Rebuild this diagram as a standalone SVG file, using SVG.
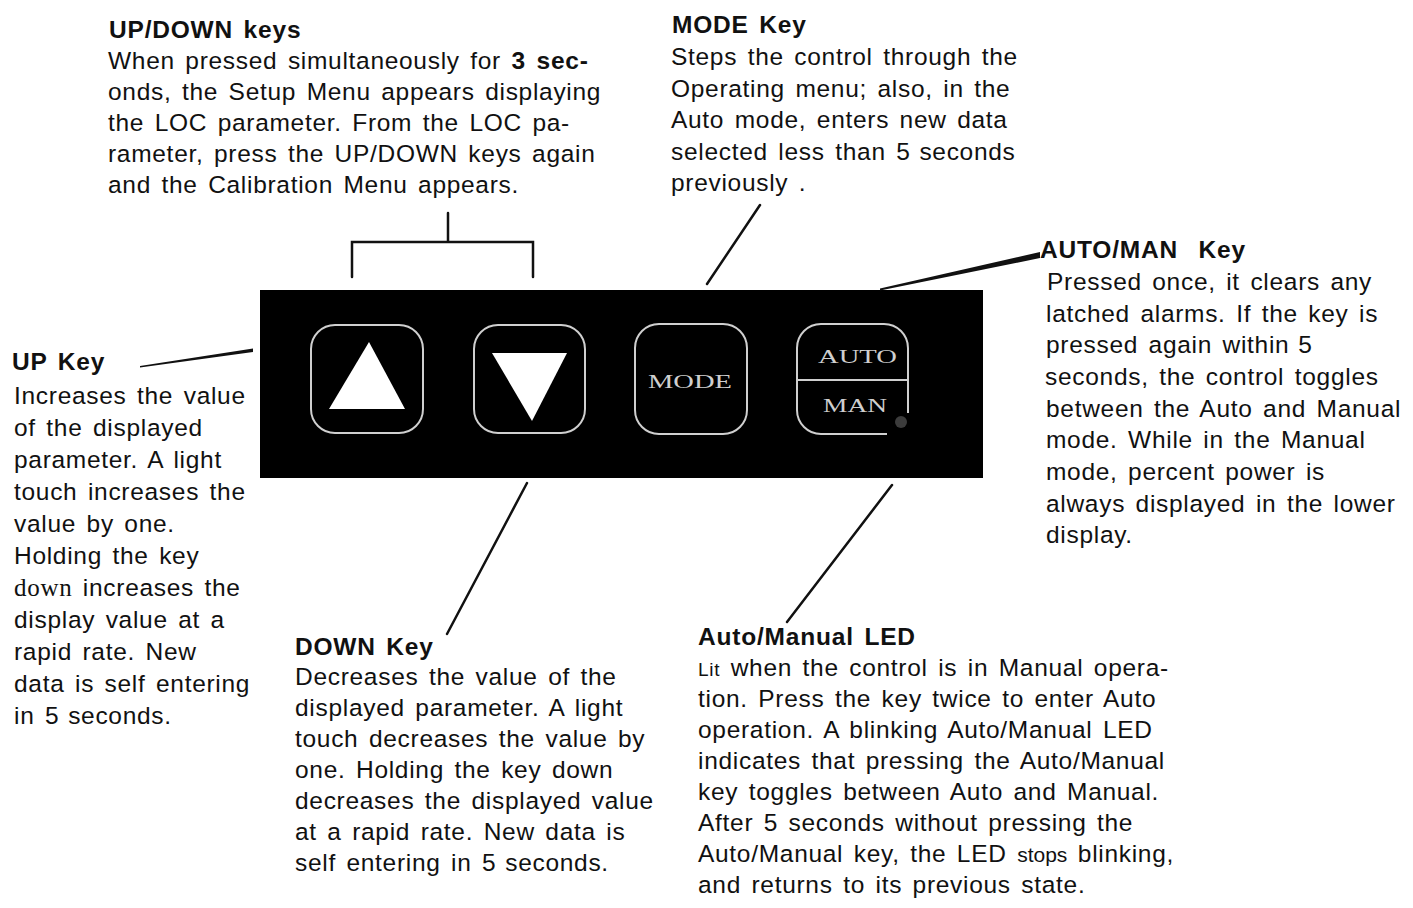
<svg xmlns="http://www.w3.org/2000/svg" width="1413" height="908" viewBox="0 0 1413 908">
<style>
text{font-family:"Liberation Sans",Arial,Helvetica,sans-serif;font-size:24.5px;fill:#111;letter-spacing:0.7px;word-spacing:3px}
.h{font-weight:bold;letter-spacing:0.8px}
.n{letter-spacing:-1px}
.key{fill:none;stroke:#cfcfcf;stroke-width:2}
.lbl{font-family:"Liberation Serif","Times New Roman",serif;fill:#cfcfcf;font-size:19px;letter-spacing:0;word-spacing:0}
.lead{stroke:#111;stroke-width:2.5;fill:none;stroke-linecap:round}
</style>
<rect width="1413" height="908" fill="#fff"/>

<g id="keypad">
  <rect x="260" y="290" width="723" height="188" fill="#000"/>
  <g id="up-key">
    <rect class="key" x="311" y="325" width="112" height="108" rx="24"/>
    <polygon points="369,342 329,409 405,409" fill="#fff"/>
  </g>
  <g id="down-key">
    <rect class="key" x="474" y="325" width="111" height="108" rx="24"/>
    <polygon points="492,353 567,353 532,421" fill="#fff"/>
  </g>
  <g id="mode-key">
    <rect class="key" x="635" y="324" width="112" height="110" rx="24"/>
    <text class="lbl" x="648" y="388" textLength="84" lengthAdjust="spacingAndGlyphs">MODE</text>
  </g>
  <g id="automan-key">
    <path class="key" d="M887,434 H821 A24,24 0 0 1 797,410 V348 A24,24 0 0 1 821,324 H884 A24,24 0 0 1 908,348 V413"/>
    <line class="key" x1="797" y1="380" x2="908" y2="380"/>
    <text class="lbl" x="818" y="363" textLength="79" lengthAdjust="spacingAndGlyphs">AUTO</text>
    <text class="lbl" x="823" y="412" textLength="64" lengthAdjust="spacingAndGlyphs">MAN</text>
    <circle cx="901" cy="422" r="6" fill="#3c3c3c"/>
  </g>
</g>

<g id="connectors">
  <path class="lead" d="M352,277 V242 H533 V277 M448,242 V213"/>
  <polygon points="140,366 253,348.5 253,352 140,367.5" fill="#111"/>
  <line class="lead" x1="760" y1="205" x2="707" y2="284"/>
  <polygon points="1040,252 1040,258 880,290.5 880,288.5" fill="#111"/>
  <line class="lead" x1="527" y1="483" x2="447" y2="634"/>
  <line class="lead" x1="892" y1="485" x2="787" y2="622"/>
</g>

<g id="updown-text">
  <text class="h" x="109" y="38">UP/DOWN keys</text>
  <text x="108" y="69">When pressed simultaneously for <tspan class="h">3 sec-</tspan></text>
  <text x="108" y="100">onds, the Setup Menu appears displaying</text>
  <text x="108" y="131">the LOC parameter. From the LOC pa-</text>
  <text x="108" y="162">rameter, press the UP/DOWN keys again</text>
  <text x="108" y="193">and the Calibration Menu appears.</text>
</g>

<g id="mode-text">
  <text class="h" x="672" y="33">MODE Key</text>
  <text x="671" y="65">Steps the control through the</text>
  <text x="671" y="97">Operating menu; also, in the</text>
  <text x="671" y="128">Auto mode, enters new data</text>
  <text x="671" y="160">selected less than <tspan class="n">5</tspan> seconds</text>
  <text x="671" y="191">previously .</text>
</g>

<g id="automan-text">
  <text class="h" x="1040" y="258">AUTO/MAN <tspan dx="10">Key</tspan></text>
  <text x="1047" y="290">Pressed once, it clears any</text>
  <text x="1046" y="322">latched alarms. If the key is</text>
  <text x="1046" y="353">pressed again within<tspan class="n"> 5</tspan></text>
  <text x="1045" y="385">seconds, the control toggles</text>
  <text x="1046" y="417">between the Auto and Manual</text>
  <text x="1046" y="448">mode. While in the Manual</text>
  <text x="1046" y="480">mode, percent power is</text>
  <text x="1046" y="512">always displayed in the lower</text>
  <text x="1046" y="543">display.</text>
</g>

<g id="upkey-text">
  <text class="h" x="12" y="370">UP Key</text>
  <text x="14" y="404">Increases the value</text>
  <text x="14" y="436">of the displayed</text>
  <text x="14" y="468">parameter. A light</text>
  <text x="14" y="500">touch increases the</text>
  <text x="14" y="532">value by one.</text>
  <text x="14" y="564">Holding the key</text>
  <text x="14" y="596"><tspan font-family="Liberation Serif, Times New Roman, serif" font-size="25">down</tspan> increases the</text>
  <text x="14" y="628">display value at a</text>
  <text x="14" y="660">rapid rate. New</text>
  <text x="14" y="692">data is self entering</text>
  <text x="14" y="724">in <tspan class="n">5</tspan> seconds.</text>
</g>

<g id="downkey-text">
  <text class="h" x="295" y="655">DOWN Key</text>
  <text x="295" y="685">Decreases the value of the</text>
  <text x="295" y="716">displayed parameter. A light</text>
  <text x="295" y="747">touch decreases the value by</text>
  <text x="295" y="778">one. Holding the key down</text>
  <text x="295" y="809">decreases the displayed value</text>
  <text x="295" y="840">at a rapid rate. New data is</text>
  <text x="295" y="871">self entering in <tspan class="n">5</tspan> seconds.</text>
</g>

<g id="led-text">
  <text class="h" x="698" y="645">Auto/Manual LED</text>
  <text x="698" y="676"><tspan font-size="19">Lit</tspan> when the control is in Manual opera-</text>
  <text x="698" y="707">tion. Press the key twice to enter Auto</text>
  <text x="698" y="738">operation. A blinking Auto/Manual LED</text>
  <text x="698" y="769">indicates that pressing the Auto/Manual</text>
  <text x="698" y="800">key toggles between Auto and Manual.</text>
  <text x="698" y="831">After 5 seconds without pressing the</text>
  <text x="698" y="862">Auto/Manual key, the LED <tspan font-size="21" letter-spacing="0">stops</tspan> blinking,</text>
  <text x="698" y="893">and returns to its previous state.</text>
</g>
</svg>
